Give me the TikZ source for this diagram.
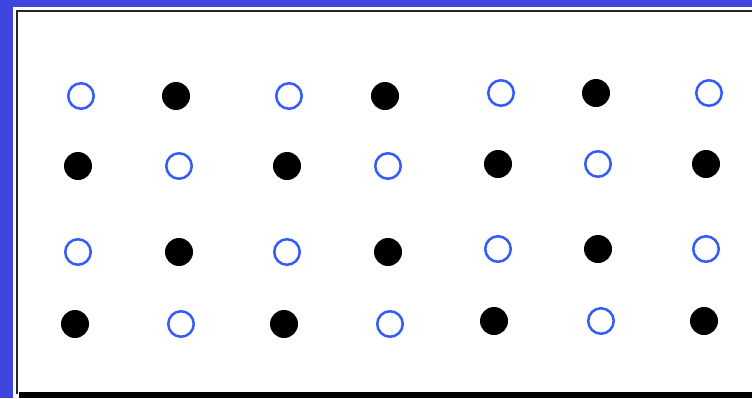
\documentclass[tikz,border=0pt]{standalone}
\usepackage{xcolor}
\usepackage{tikz}
\definecolor{bgblue}{RGB}{62,70,222}
\definecolor{ringblue}{RGB}{50,90,255}

\begin{document}
\begin{tikzpicture}[x=0.0265cm, y=-0.0265cm,
  ring/.style={circle, draw=ringblue, line width=1.9pt, minimum size=25.5*0.0265cm, inner sep=0pt},
  dot/.style={circle, fill=black, minimum size=28*0.0265cm, inner sep=0pt}]
\useasboundingbox (0,0) rectangle (752,398);
% background and frame
\fill[bgblue] (0,0) rectangle (752,398);
\fill[white] (13,7) rectangle (752,398);
\draw[black!85, line width=2.2pt] (17,394) -- (17,11) -- (752,11);
\fill[black] (19,392) rectangle (752,398);
% row 1
\node[ring] (r1c1) at (81,96) {};
\node[dot]  (r1c2) at (176,96) {};
\node[ring] (r1c3) at (289,96) {};
\node[dot]  (r1c4) at (385,96) {};
\node[ring] (r1c5) at (501,93) {};
\node[dot]  (r1c6) at (596,93) {};
\node[ring] (r1c7) at (709,93) {};
% row 2
\node[dot]  (r2c1) at (78,166) {};
\node[ring] (r2c2) at (179,166) {};
\node[dot]  (r2c3) at (287,166) {};
\node[ring] (r2c4) at (388,166) {};
\node[dot]  (r2c5) at (498,164) {};
\node[ring] (r2c6) at (598,164) {};
\node[dot]  (r2c7) at (706,164) {};
% row 3
\node[ring] (r3c1) at (78,252) {};
\node[dot]  (r3c2) at (179,252) {};
\node[ring] (r3c3) at (287,252) {};
\node[dot]  (r3c4) at (388,252) {};
\node[ring] (r3c5) at (498,249) {};
\node[dot]  (r3c6) at (598,249) {};
\node[ring] (r3c7) at (706,249) {};
% row 4
\node[dot]  (r4c1) at (75,324) {};
\node[ring] (r4c2) at (181,324) {};
\node[dot]  (r4c3) at (284,324) {};
\node[ring] (r4c4) at (390,324) {};
\node[dot]  (r4c5) at (494,321) {};
\node[ring] (r4c6) at (601,321) {};
\node[dot]  (r4c7) at (704,321) {};
\end{tikzpicture}
\end{document}
